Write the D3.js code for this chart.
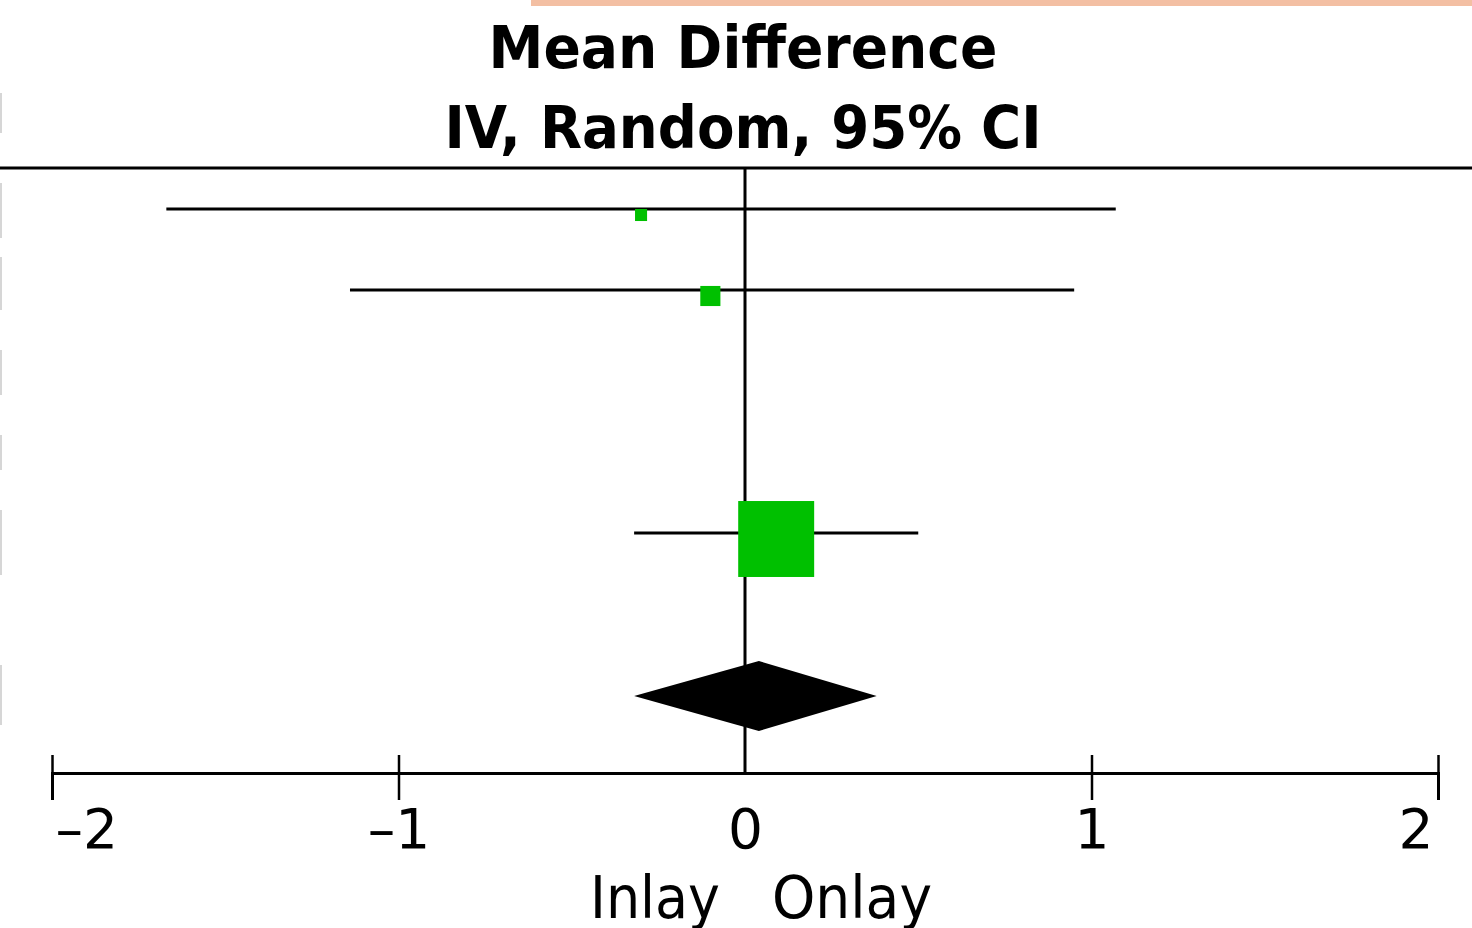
<!DOCTYPE html>
<html>
<head>
<meta charset="utf-8">
<script src="https://cdn.jsdelivr.net/npm/d3@7"></script>
<style>
  body { margin: 0; background: #fff; }
  svg { display: block; }
  text { font-family: "DejaVu Sans", Verdana, sans-serif; fill: #000; }
</style>
</head>
<body>
<div class="chart"></div>
<script>
// study rows (mean difference, 95% CI, weight %)
const rowIndex = [0, 1, 4];
const means = [-0.30, -0.10, 0.09];
const lower = [-1.67, -1.14, -0.32];
const upper = [1.07, 0.95, 0.50];
const weights = [2.3, 6.4, 91.3];

// pooled estimate
const totalRow = 6;
const totalMean = 0.04;
const totalLower = -0.32;
const totalUpper = 0.38;

const tickValues = [-2, -1, 0, 1, 2];
const favours = ["Inlay", "Onlay"];
const titleLines = ["Mean Difference", "IV, Random, 95% CI"];

const w = 1472, h = 928;

const svg = d3.select(".chart").append("svg")
  .attr("width", w)
  .attr("height", h);

const x = d3.scaleLinear().domain([-2, 2]).range([52, 1438]);
const y = d3.scaleLinear().domain([0, 6]).range([210, 696]);
const side = d3.scaleSqrt().domain([0, 100]).range([0, 79.5]);

const axisY = 773;

// bits of the surrounding page that show in the crop
svg.append("rect")
  .attr("x", 531).attr("y", 0).attr("width", w - 531).attr("height", 6)
  .attr("fill", "#f3bfa3");
const edgeBits = [[93, 133], [183, 238], [257, 310], [350, 395], [435, 470], [510, 575], [665, 725]];
svg.selectAll(".edge")
  .data(edgeBits)
  .enter()
  .append("line")
  .attr("x1", 1).attr("x2", 1)
  .attr("y1", d => d[0]).attr("y2", d => d[1])
  .attr("stroke", "#d6d6d6").attr("stroke-width", 2);

// header
svg.selectAll(".title")
  .data(titleLines)
  .enter()
  .append("text")
  .attr("x", 743)
  .attr("y", (d, i) => 68 + i * 80)
  .attr("text-anchor", "middle")
  .attr("font-size", 58)
  .attr("font-weight", "bold")
  .attr("textLength", (d, i) => i === 0 ? 509 : 597)
  .attr("lengthAdjust", "spacingAndGlyphs")
  .text(d => d);

svg.append("line")
  .attr("x1", 0).attr("x2", w)
  .attr("y1", 168).attr("y2", 168)
  .attr("stroke", "#000").attr("stroke-width", 3);

// line of no effect
svg.append("line")
  .attr("x1", x(0)).attr("x2", x(0))
  .attr("y1", 168).attr("y2", axisY)
  .attr("stroke", "#000").attr("stroke-width", 3);

// confidence intervals
const studies = means.map((m, i) => ({ row: rowIndex[i], mean: m, lo: lower[i], hi: upper[i], weight: weights[i] }));

svg.selectAll(".ci")
  .data(studies)
  .enter()
  .append("line")
  .attr("x1", d => x(d.lo)).attr("x2", d => x(d.hi))
  .attr("y1", d => y(d.row) - 1).attr("y2", d => y(d.row) - 1)
  .attr("stroke", "#000").attr("stroke-width", 3);

svg.selectAll(".box")
  .data(studies)
  .enter()
  .append("rect")
  .attr("x", d => x(d.mean) - side(d.weight) / 2)
  .attr("y", d => y(d.row) + 5 - side(d.weight) / 2)
  .attr("width", d => side(d.weight))
  .attr("height", d => side(d.weight))
  .attr("fill", "#00c000");

// pooled diamond
const cy = y(totalRow);
svg.append("path")
  .attr("d", d3.line()([
    [x(totalLower), cy],
    [x(totalMean), cy - 35],
    [x(totalUpper), cy],
    [x(totalMean), cy + 35]
  ]) + "Z")
  .attr("fill", "#000");

// axis
const axis = svg.append("g")
  .attr("transform", `translate(0,${axisY})`)
  .call(d3.axisBottom(x).tickValues(tickValues).tickSizeOuter(0).tickSize(27)
    .tickFormat(d => d < 0 ? "\u2013" + Math.abs(d) : String(d)));

axis.select(".domain").attr("stroke-width", 3);
axis.selectAll(".tick line")
  .attr("y1", -18)
  .attr("stroke-width", 2.5)
  .attr("display", d => d === 0 ? "none" : null);
axis.selectAll(".tick text")
  .attr("y", 75)
  .attr("dy", 0)
  .attr("font-size", 55)
  .attr("font-family", "DejaVu Sans, sans-serif")
  .attr("text-anchor", (d, i) => i === 0 ? "start" : i === tickValues.length - 1 ? "end" : "middle")
  .attr("dx", (d, i) => i === 0 ? 3 : i === tickValues.length - 1 ? -5 : 0);

// favours labels
svg.selectAll(".favours")
  .data(favours)
  .enter()
  .append("text")
  .attr("x", (d, i) => i === 0 ? 720 : 772)
  .attr("y", 918)
  .attr("text-anchor", (d, i) => i === 0 ? "end" : "start")
  .attr("font-size", 58)
  .attr("textLength", (d, i) => i === 0 ? 130 : 160)
  .attr("lengthAdjust", "spacingAndGlyphs")
  .text(d => d);
</script>
</body>
</html>
